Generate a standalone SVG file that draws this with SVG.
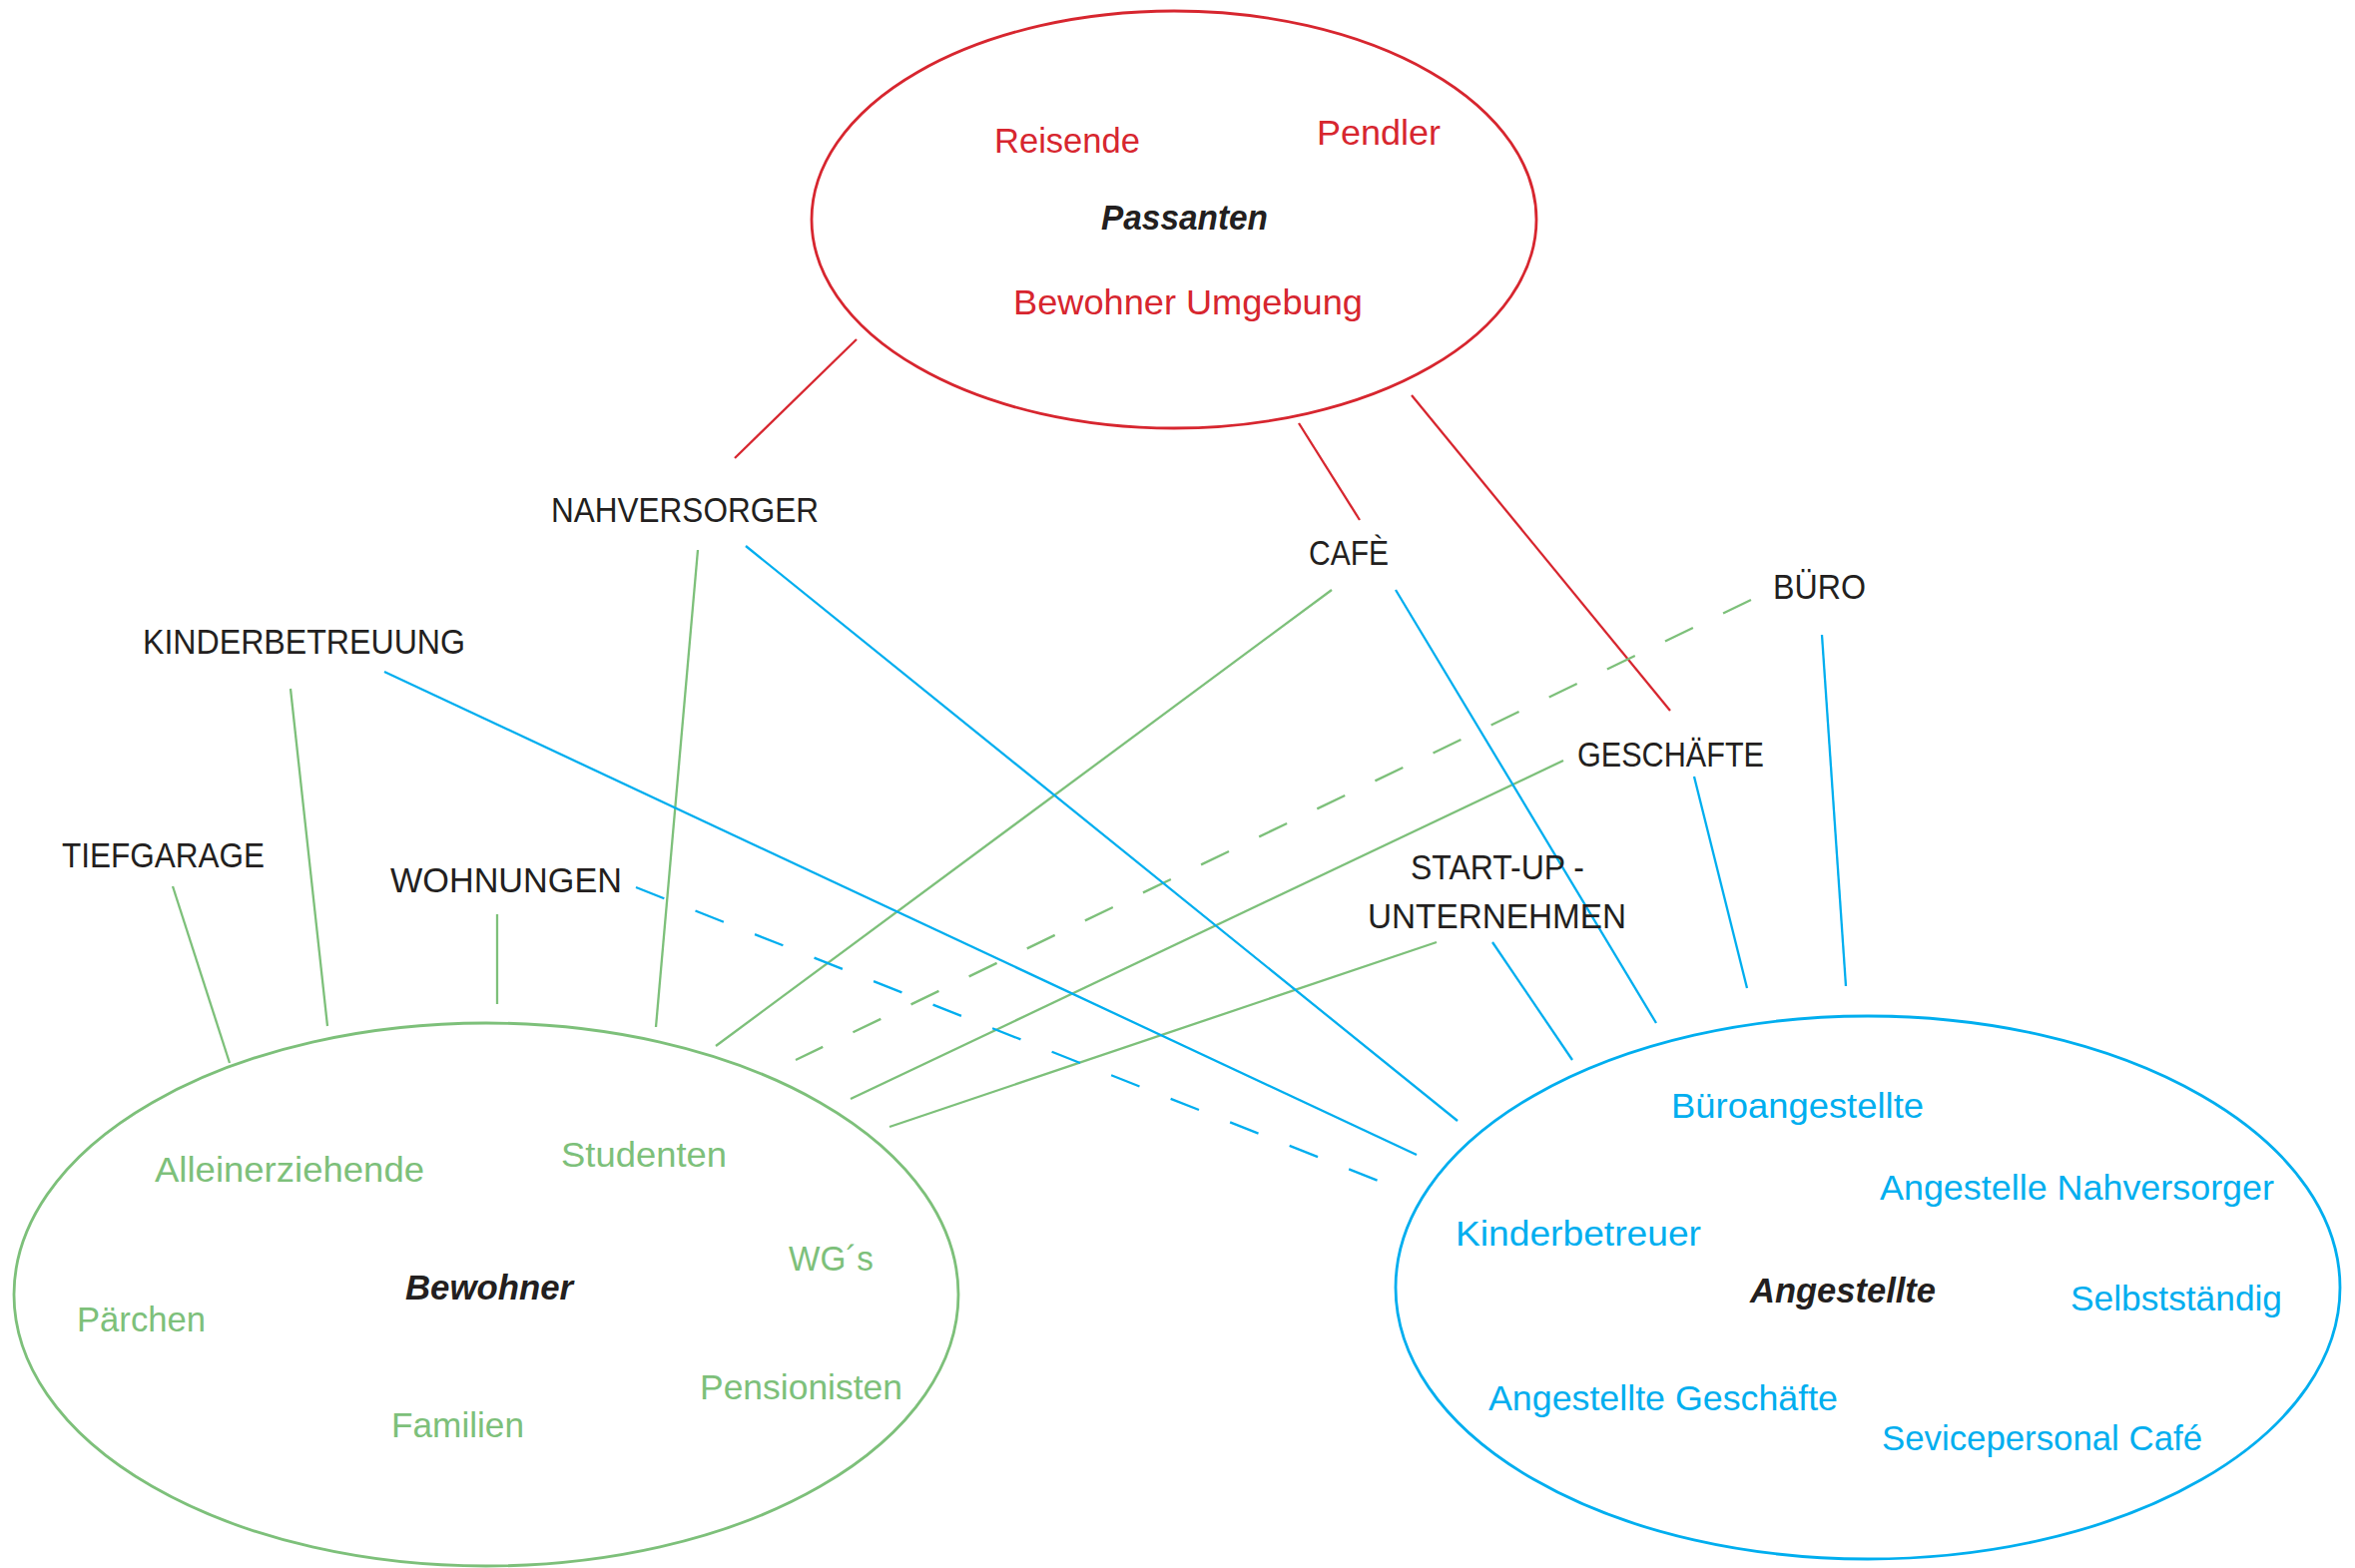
<svg xmlns="http://www.w3.org/2000/svg" width="2359" height="1571" viewBox="0 0 2359 1571">
<style>
text{font-family:"Liberation Sans",Arial,sans-serif;font-size:35px}
.red{fill:#D7262F}.grn{fill:#7DC07A}.blu{fill:#00AEEF}.blk{fill:#231F20}
.title{fill:#231F20;font-weight:bold;font-style:italic}
.ell{fill:none;stroke-width:2.8}
.cr{stroke:#D7262F;stroke-width:2.3;fill:none}
.cg{stroke:#7DC07A;stroke-width:2.3;fill:none}
.cb{stroke:#00AEEF;stroke-width:2.3;fill:none}
</style>
<rect width="2359" height="1571" fill="#ffffff"/>
<g id="connectors">
<line class="cr" x1="858" y1="340" x2="736" y2="459"/>
<line class="cr" x1="1301" y1="424" x2="1362" y2="521"/>
<line class="cr" x1="1414" y1="396" x2="1673" y2="712"/>
<line class="cg" x1="173" y1="888" x2="230" y2="1065"/>
<line class="cg" x1="291" y1="690" x2="328" y2="1028"/>
<line class="cg" x1="498" y1="916" x2="498" y2="1006"/>
<line class="cg" x1="699" y1="551" x2="657" y2="1029"/>
<line class="cg" x1="1334" y1="591" x2="717" y2="1048"/>
<line class="cg" x1="1754" y1="601" x2="797" y2="1062" stroke-dasharray="31 33.5"/>
<line class="cg" x1="1566" y1="762" x2="852" y2="1101"/>
<line class="cg" x1="1439" y1="944" x2="891" y2="1129"/>
<line class="cb" x1="385" y1="673" x2="1419" y2="1157"/>
<line class="cb" x1="747" y1="547" x2="1460" y2="1123"/>
<line class="cb" x1="637" y1="889" x2="1383" y2="1184" stroke-dasharray="30.5 33.5"/>
<line class="cb" x1="1398" y1="591" x2="1659" y2="1025"/>
<line class="cb" x1="1495" y1="944" x2="1575" y2="1062"/>
<line class="cb" x1="1697" y1="778" x2="1750" y2="990"/>
<line class="cb" x1="1825" y1="636" x2="1849" y2="988"/>
</g>
<g id="passanten">
<ellipse class="ell" stroke="#D7262F" cx="1176" cy="220" rx="363" ry="209"/>
<text class="red" x="996" y="153" textLength="146" lengthAdjust="spacingAndGlyphs">Reisende</text>
<text class="red" x="1319" y="145" textLength="124" lengthAdjust="spacingAndGlyphs">Pendler</text>
<text class="title" x="1103" y="230" textLength="167" lengthAdjust="spacingAndGlyphs">Passanten</text>
<text class="red" x="1015" y="315" textLength="350" lengthAdjust="spacingAndGlyphs">Bewohner Umgebung</text>
</g>
<g id="bewohner">
<ellipse class="ell" stroke="#7DC07A" cx="487" cy="1297" rx="473" ry="272"/>
<text class="grn" x="155" y="1184" textLength="270" lengthAdjust="spacingAndGlyphs">Alleinerziehende</text>
<text class="grn" x="562" y="1169" textLength="166" lengthAdjust="spacingAndGlyphs">Studenten</text>
<text class="grn" x="790" y="1273" textLength="85" lengthAdjust="spacingAndGlyphs">WG´s</text>
<text class="title" x="406" y="1302" textLength="168" lengthAdjust="spacingAndGlyphs">Bewohner</text>
<text class="grn" x="77" y="1334" textLength="129" lengthAdjust="spacingAndGlyphs">Pärchen</text>
<text class="grn" x="701" y="1402" textLength="203" lengthAdjust="spacingAndGlyphs">Pensionisten</text>
<text class="grn" x="392" y="1440" textLength="133" lengthAdjust="spacingAndGlyphs">Familien</text>
</g>
<g id="angestellte">
<ellipse class="ell" stroke="#00AEEF" cx="1871" cy="1290" rx="473" ry="272"/>
<text class="blu" x="1674" y="1120" textLength="253" lengthAdjust="spacingAndGlyphs">Büroangestellte</text>
<text class="blu" x="1883" y="1202" textLength="395" lengthAdjust="spacingAndGlyphs">Angestelle Nahversorger</text>
<text class="blu" x="1458" y="1248" textLength="246" lengthAdjust="spacingAndGlyphs">Kinderbetreuer</text>
<text class="title" x="1753" y="1305" textLength="186" lengthAdjust="spacingAndGlyphs">Angestellte</text>
<text class="blu" x="2074" y="1313" textLength="212" lengthAdjust="spacingAndGlyphs">Selbstständig</text>
<text class="blu" x="1491" y="1413" textLength="350" lengthAdjust="spacingAndGlyphs">Angestellte Geschäfte</text>
<text class="blu" x="1885" y="1453" textLength="321" lengthAdjust="spacingAndGlyphs">Sevicepersonal Café</text>
</g>
<g id="nahversorger"><text class="blk" x="552" y="523" textLength="268" lengthAdjust="spacingAndGlyphs">NAHVERSORGER</text></g>
<g id="kinderbetreuung"><text class="blk" x="143" y="655" textLength="323" lengthAdjust="spacingAndGlyphs">KINDERBETREUUNG</text></g>
<g id="tiefgarage"><text class="blk" x="62" y="869" textLength="203" lengthAdjust="spacingAndGlyphs">TIEFGARAGE</text></g>
<g id="wohnungen"><text class="blk" x="391" y="894" textLength="232" lengthAdjust="spacingAndGlyphs">WOHNUNGEN</text></g>
<g id="cafe"><text class="blk" x="1311" y="566" textLength="80" lengthAdjust="spacingAndGlyphs">CAFÈ</text></g>
<g id="buero"><text class="blk" x="1776" y="600" textLength="93" lengthAdjust="spacingAndGlyphs">BÜRO</text></g>
<g id="geschaefte"><text class="blk" x="1580" y="768" textLength="187" lengthAdjust="spacingAndGlyphs">GESCHÄFTE</text></g>
<g id="startup">
<text class="blk" x="1413" y="881" textLength="174" lengthAdjust="spacingAndGlyphs">START-UP -</text>
<text class="blk" x="1370" y="930" textLength="259" lengthAdjust="spacingAndGlyphs">UNTERNEHMEN</text>
</g>
</svg>
